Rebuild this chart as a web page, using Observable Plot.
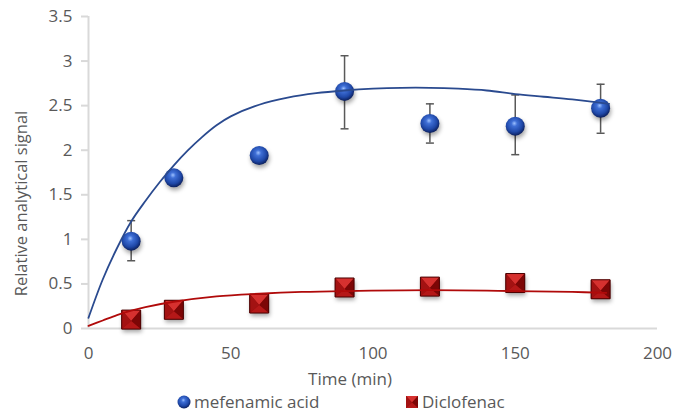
<!DOCTYPE html>
<html>
<head>
<meta charset="utf-8">
<script src="https://cdn.jsdelivr.net/npm/d3@7"></script>
<script src="https://cdn.jsdelivr.net/npm/@observablehq/plot@0.6"></script>
<style>
  body { margin: 0; background: #fff; }
  #wrap { position: relative; width: 674px; height: 413px; font-family: "Open Sans", sans-serif; color: #595959; }
  .leg { position: absolute; top: 390px; height: 23px; line-height: 23px; font-size: 17px; display: flex; align-items: center; white-space: nowrap; }
  .leg svg { margin-right: 3px; }
</style>
</head>
<body>
<div id="wrap"></div>
<script>
// ---- data ----
const times = [15, 30, 60, 90, 120, 150, 180];
const mefenamic = [0.98, 1.69, 1.94, 2.66, 2.30, 2.27, 2.47];
const mefenamicLow = [0.76, null, null, 2.24, 2.08, 1.95, 2.19];
const mefenamicHigh = [1.21, null, null, 3.06, 2.52, 2.62, 2.74];
const diclofenac = [0.10, 0.21, 0.28, 0.46, 0.47, 0.51, 0.44];

// trend lines
const mefTrendT = [0, 5, 10, 15, 20, 25, 30, 35, 40, 45, 50, 60, 70, 80, 90, 100, 110, 120, 130, 140, 150, 160, 170, 183];
const mefTrendY = [0.12, 0.55, 0.90, 1.20, 1.43, 1.64, 1.83, 2.00, 2.15, 2.28, 2.38, 2.51, 2.59, 2.64, 2.67, 2.69, 2.70, 2.70, 2.69, 2.67, 2.63, 2.60, 2.57, 2.52];
const dicTrendT = [0, 5, 10, 15, 20, 30, 45, 60, 75, 90, 120, 150, 170, 182];
const dicTrendY = [0.03, 0.09, 0.15, 0.20, 0.24, 0.30, 0.36, 0.39, 0.41, 0.42, 0.43, 0.42, 0.41, 0.40];

const xTicks = [0, 50, 100, 150, 200];
const yTicks = [0, 0.5, 1, 1.5, 2, 2.5, 3, 3.5];
const yTickLabels = ["0", "0.5", "1", "1.5", "2", "2.5", "3", "3.5"];
const seriesNames = ["mefenamic acid", "Diclofenac"];
const xTitle = "Time (min)";
const yTitle = "Relative analytical signal";

// ---- tables ----
const mefRows = times.map((t, i) => ({t, v: mefenamic[i], lo: mefenamicLow[i], hi: mefenamicHigh[i]}));
const errRows = mefRows.filter(d => d.lo != null);
const dicRows = times.map((t, i) => ({t, v: diclofenac[i]}));
const mefTrend = mefTrendT.map((t, i) => ({t, v: mefTrendY[i]}));
const dicTrend = dicTrendT.map((t, i) => ({t, v: dicTrendY[i]}));

// custom symbols
const capSymbol = {draw(ctx, size) { ctx.moveTo(-4, 0); ctx.lineTo(4, 0); }};
function tri(which) {
  return {draw(ctx, size) {
    const h = Math.sqrt(size / Math.PI);
    const pts = {
      top: [[-h, -h], [h, -h]],
      right: [[h, -h], [h, h]],
      bottom: [[h, h], [-h, h]],
      left: [[-h, h], [-h, -h]]
    }[which];
    ctx.moveTo(pts[0][0], pts[0][1]);
    ctx.lineTo(pts[1][0], pts[1][1]);
    ctx.lineTo(0, h * 0.15);
    ctx.closePath();
  }};
}
const sq = {draw(ctx, size) { const h = Math.sqrt(size / Math.PI); ctx.rect(-h, -h, 2 * h, 2 * h); }};

const shadow = "drop-shadow(1px 3px 2px rgba(0,0,0,0.35))";

const chart = Plot.plot({
  width: 674,
  height: 390,
  marginLeft: 88,
  marginRight: 17,
  marginTop: 16,
  marginBottom: 62,
  style: {fontFamily: "Open Sans, sans-serif", fontSize: "17px", color: "#595959", background: "#fff"},
  x: {domain: [0, 200]},
  y: {domain: [0, 3.5]},
  marks: [
    Plot.ruleX([0], {stroke: "#d9d9d9", strokeWidth: 2}),
    Plot.ruleY([0], {stroke: "#d9d9d9", strokeWidth: 2}),
    Plot.axisY({ticks: yTicks, tickFormat: d => yTickLabels[yTicks.indexOf(d)], tickSize: 7, tickPadding: 9, stroke: "#d9d9d9", strokeWidth: 2, fill: "#595959", label: null}),
    Plot.axisX({ticks: xTicks, tickSize: 0, tickPadding: 18, fill: "#595959", label: null}),
    Plot.text([xTitle], {frameAnchor: "bottom", textAnchor: "middle", lineAnchor: "middle", dx: -23, dy: 51, fill: "#595959", fontSize: 17}),
    Plot.text([yTitle], {frameAnchor: "left", textAnchor: "middle", lineAnchor: "middle", rotate: -90, dx: -67, dy: 31, fill: "#595959", fontSize: 16.5}),
    // error bars
    Plot.ruleX(errRows, {x: "t", y1: "lo", y2: "hi", stroke: "#595959", strokeWidth: 1.5}),
    Plot.dot(errRows, {x: "t", y: "lo", symbol: capSymbol, r: 4, stroke: "#595959", strokeWidth: 1.5, fill: "none"}),
    Plot.dot(errRows, {x: "t", y: "hi", symbol: capSymbol, r: 4, stroke: "#595959", strokeWidth: 1.5, fill: "none"}),
    // diclofenac pyramid squares
    Plot.dot(dicRows, {x: "t", y: "v", symbol: sq, r: 9.5, fill: "#8a0a0a", imageFilter: shadow}),
    Plot.dot(dicRows, {x: "t", y: "v", symbol: tri("top"), r: 9.5, fill: "#d6312f"}),
    Plot.dot(dicRows, {x: "t", y: "v", symbol: tri("left"), r: 9.5, fill: "#a31212"}),
    Plot.dot(dicRows, {x: "t", y: "v", symbol: tri("right"), r: 9.5, fill: "#7c0606"}),
    Plot.dot(dicRows, {x: "t", y: "v", symbol: tri("bottom"), r: 9.5, fill: "#b51818"}),
    Plot.dot(dicRows, {x: "t", y: "v", symbol: sq, r: 9.5, fill: "none", stroke: "#4a0000", strokeWidth: 1}),
    // mefenamic spheres
    Plot.dot(mefRows, {x: "t", y: "v", r: 9.5, fill: "url(#sphereGrad)", imageFilter: shadow}),
    // trend lines
    Plot.line(mefTrend, {x: "t", y: "v", curve: "catmull-rom", stroke: "#2a4a8f", strokeWidth: 1.8}),
    Plot.line(dicTrend, {x: "t", y: "v", curve: "catmull-rom", stroke: "#b00a0a", strokeWidth: 1.8})
  ]
});

d3.select(chart).insert("defs", ":first-child").html(`
  <radialGradient id="sphereGrad" cx="45%" cy="40%" r="60%" fx="45%" fy="35%">
    <stop offset="0%" stop-color="#9cc0ff"/>
    <stop offset="25%" stop-color="#3f6fd6"/>
    <stop offset="70%" stop-color="#1f48a8"/>
    <stop offset="100%" stop-color="#0c1f5c"/>
  </radialGradient>`);

const wrap = document.getElementById("wrap");
wrap.appendChild(chart);

// legend
const leg1 = document.createElement("div");
leg1.className = "leg";
leg1.style.left = "177px";
leg1.innerHTML = `<svg width="14" height="14"><circle cx="7" cy="7" r="6.5" fill="url(#sphereGrad)"/></svg><span>${seriesNames[0]}</span>`;
const leg2 = document.createElement("div");
leg2.className = "leg";
leg2.style.left = "405px";
leg2.innerHTML = `<svg width="14" height="14"><rect x="1" y="1" width="12" height="12" fill="#8a0a0a"/><path d="M1,1L13,1L7,7.5Z" fill="#d6312f"/><path d="M1,13L1,1L7,7.5Z" fill="#a31212"/><path d="M13,1L13,13L7,7.5Z" fill="#7c0606"/><path d="M13,13L1,13L7,7.5Z" fill="#b51818"/></svg><span>${seriesNames[1]}</span>`;
wrap.appendChild(leg1);
wrap.appendChild(leg2);
</script>
</body>
</html>
